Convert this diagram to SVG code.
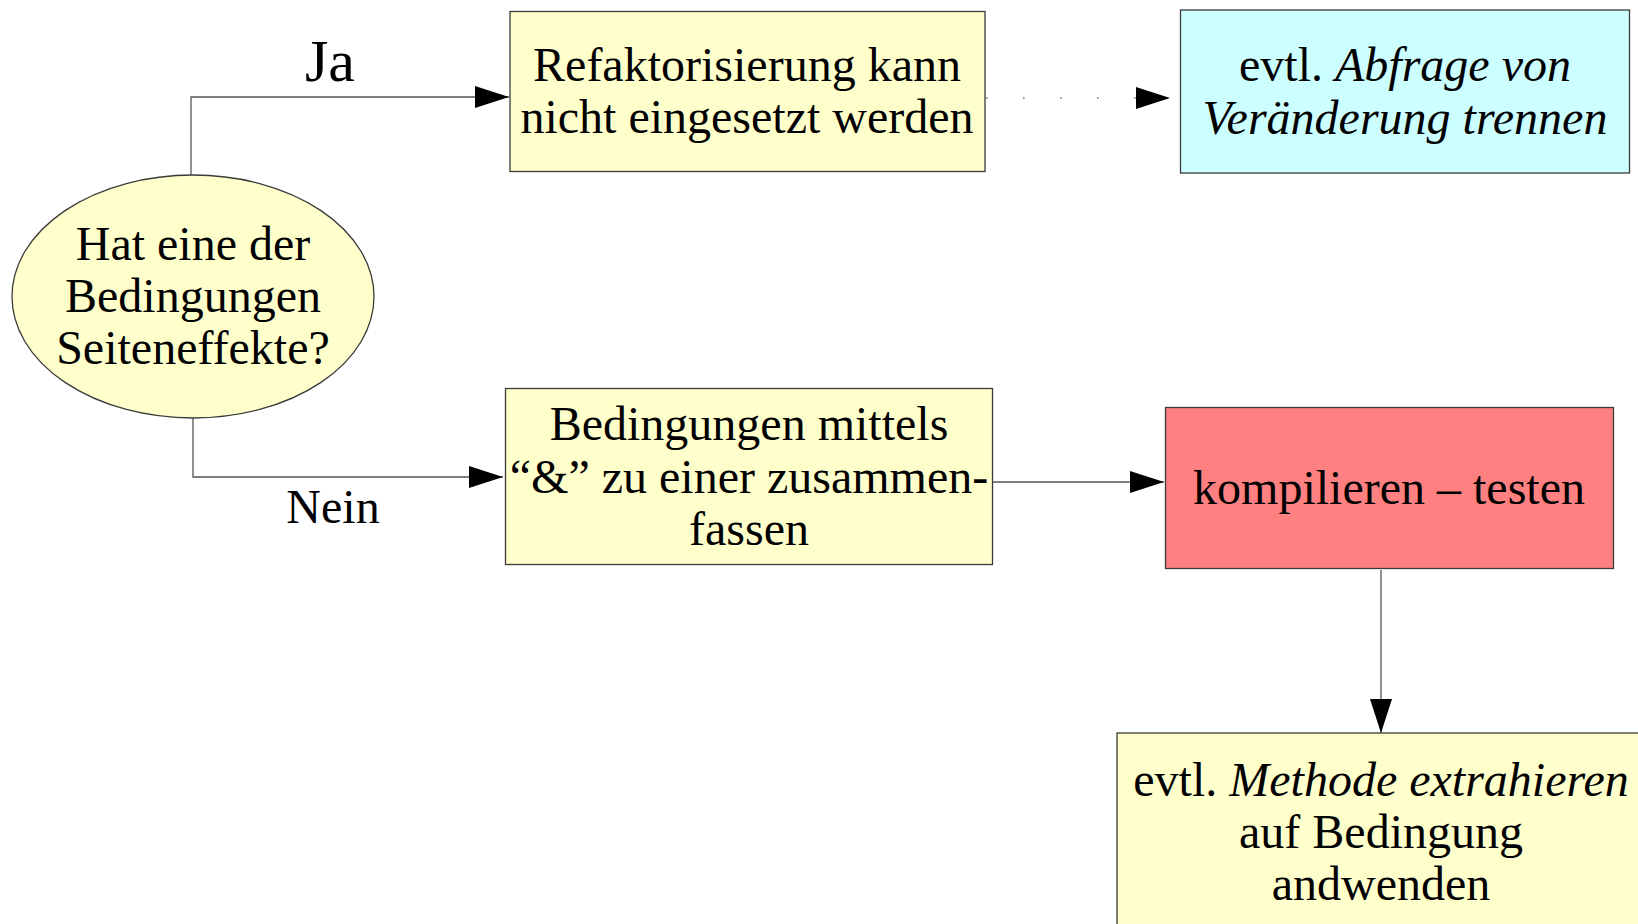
<svg xmlns="http://www.w3.org/2000/svg" width="1638" height="924" viewBox="0 0 1638 924">
  <defs>
    <marker id="arrow" markerUnits="userSpaceOnUse" markerWidth="34" markerHeight="22" refX="34" refY="11" orient="auto">
      <path d="M0,0 L34,11 L0,22 z" fill="#000"/>
    </marker>
    <style>
      .node { stroke: #3a3a3a; stroke-width: 1.3; }
      .yellow { fill: #ffffcc; }
      .cyan { fill: #ccffff; }
      .red { fill: #ff8080; }
      .label { font-family: "Liberation Serif", "Times New Roman", serif; font-size: 48px; fill: #000; text-anchor: middle; }
      .big { font-size: 60px; }
      .it { font-style: italic; }
      .edge { fill: none; stroke: #555; stroke-width: 1.3; }
      .dotted { stroke: #777; stroke-width: 1.6; stroke-dasharray: 1.6 35.4; }
    </style>
  </defs>

  <rect width="1638" height="924" fill="#fff"/>

  <!-- connectors -->
  <g id="connectors">
    <path class="edge" d="M191,175 V97 H509" marker-end="url(#arrow)"/>
    <path class="edge" d="M193,418 V477 H503" marker-end="url(#arrow)"/>
    <path class="edge dotted" d="M986,98 H1170" marker-end="url(#arrow)"/>
    <path class="edge" d="M993,482 H1164" marker-end="url(#arrow)"/>
    <path class="edge" d="M1381,570 V733" marker-end="url(#arrow)"/>
    <text class="label big" x="330" y="81">Ja</text>
    <text class="label" x="333" y="523">Nein</text>
  </g>

  <g id="decision">
    <ellipse class="node yellow" cx="193" cy="296.5" rx="181" ry="121.5"/>
    <text class="label" x="193" y="260">Hat eine der</text>
    <text class="label" x="193" y="312">Bedingungen</text>
    <text class="label" x="193" y="364">Seiteneffekte?</text>
  </g>

  <g id="not-applicable">
    <rect class="node yellow" x="510" y="11.5" width="475" height="160"/>
    <text class="label" x="747" y="81">Refaktorisierung kann</text>
    <text class="label" x="747" y="133">nicht eingesetzt werden</text>
  </g>

  <g id="separate-query">
    <rect class="node cyan" x="1180.5" y="10" width="449" height="163"/>
    <text class="label" x="1405" y="81">evtl. <tspan class="it">Abfrage von</tspan></text>
    <text class="label it" x="1405" y="134">Veränderung trennen</text>
  </g>

  <g id="combine">
    <rect class="node yellow" x="505.5" y="388.5" width="487" height="176"/>
    <text class="label" x="749" y="440">Bedingungen mittels</text>
    <text class="label" x="749" y="493">“&amp;” zu einer zusammen-</text>
    <text class="label" x="749" y="545">fassen</text>
  </g>

  <g id="compile-test">
    <rect class="node red" x="1165.5" y="407.5" width="448" height="161"/>
    <text class="label" x="1389" y="504">kompilieren – testen</text>
  </g>

  <g id="extract-method">
    <rect class="node yellow" x="1117" y="733" width="530" height="200"/>
    <text class="label" x="1381" y="796">evtl. <tspan class="it">Methode extrahieren</tspan></text>
    <text class="label" x="1381" y="848">auf Bedingung</text>
    <text class="label" x="1381" y="900">andwenden</text>
  </g>
</svg>
